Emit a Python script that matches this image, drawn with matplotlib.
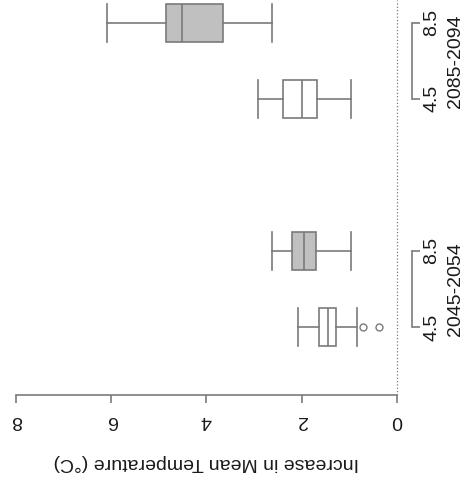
import matplotlib
matplotlib.use("Agg")
import matplotlib.pyplot as plt
import matplotlib.transforms as mtransforms

# box statistics (°C)
scenarios = ["4.5", "8.5", "4.5", "8.5"]
periods = ["2045-2054", "2085-2094"]
positions = [1, 2, 4, 5]
med = [1.45, 1.95, 2.00, 4.52]
q1 = [1.28, 1.70, 1.68, 3.66]
q3 = [1.64, 2.20, 2.39, 4.85]
whislo = [0.84, 0.97, 0.97, 2.63]
whishi = [2.08, 2.63, 2.92, 6.09]
fliers = [[0.71, 0.37], [], [], []]
fills = ["white", "#c0c0c0", "white", "#c0c0c0"]

LINE = "#7a7a7a"
TEXT = "#1a1a1a"

plt.rcParams["font.family"] = ["Liberation Sans", "DejaVu Sans"]


def main() -> None:
    """Draw the rotated boxplot."""
    fig = plt.figure(figsize=(4.74, 4.80), dpi=100)
    ax = fig.add_axes([1 / 474, 85 / 480, 411 / 474, 395 / 480])

    stats = []
    for i in range(len(positions)):
        stats.append({"med": med[i], "q1": q1[i], "q3": q3[i],
                      "whislo": whislo[i], "whishi": whishi[i],
                      "fliers": fliers[i]})

    bp = ax.bxp(stats, positions=positions, vert=False, widths=0.5,
                patch_artist=True, showcaps=True,
                boxprops=dict(color=LINE, linewidth=1.2),
                medianprops=dict(color=LINE, linewidth=1.2),
                whiskerprops=dict(color=LINE, linewidth=1.2, linestyle="-"),
                capprops=dict(color=LINE, linewidth=1.2),
                flierprops=dict(marker="o", markersize=5, markerfacecolor="none",
                                markeredgecolor=LINE, markeredgewidth=1.0))
    for patch, c in zip(bp["boxes"], fills):
        patch.set_facecolor(c)
    for cap in bp["caps"]:
        ydata = cap.get_ydata()
        mid = (ydata[0] + ydata[1]) / 2
        cap.set_ydata([mid - 0.25, mid + 0.25])

    ax.axvline(0, color=LINE, linestyle=":", linewidth=0.9)

    ax.set_xlim(8.32, -0.32)
    ax.set_ylim(0.105, 5.30)

    for side in ["top", "left", "right"]:
        ax.spines[side].set_visible(False)
    ax.spines["bottom"].set_bounds(0, 8)
    ax.spines["bottom"].set_color(LINE)
    ax.spines["bottom"].set_linewidth(1.2)

    ax.set_xticks([0, 2, 4, 6, 8])
    ax.set_xticklabels(["0", "2", "4", "6", "8"], rotation=180)
    ax.tick_params(axis="x", length=6, width=1.2, color=LINE, labelcolor=TEXT,
                   labelsize=14, pad=6)
    ax.set_xlabel("Increase in Mean Temperature (°C)", rotation=180,
                  fontsize=14, color=TEXT, labelpad=18)

    ax.yaxis.tick_right()
    ax.set_yticks(positions)
    ax.set_yticklabels(scenarios, rotation=90, va="center")
    ax.tick_params(axis="y", length=6, width=1.2, color=LINE, labelcolor=TEXT,
                   labelsize=14, pad=2)

    trans = mtransforms.blended_transform_factory(ax.transAxes, ax.transData)
    for k in range(len(periods)):
        lo, hi = positions[2 * k], positions[2 * k + 1]
        ax.plot([1, 1], [lo, hi], color=LINE, linewidth=1.2,
                transform=trans, clip_on=False)
        ax.text(1.105, (lo + hi) / 2, periods[k], rotation=90,
                transform=trans, ha="center", va="center",
                fontsize=14, color=TEXT)

    fig.savefig("out.png", dpi=100)


if __name__ == "__main__":
    main()
